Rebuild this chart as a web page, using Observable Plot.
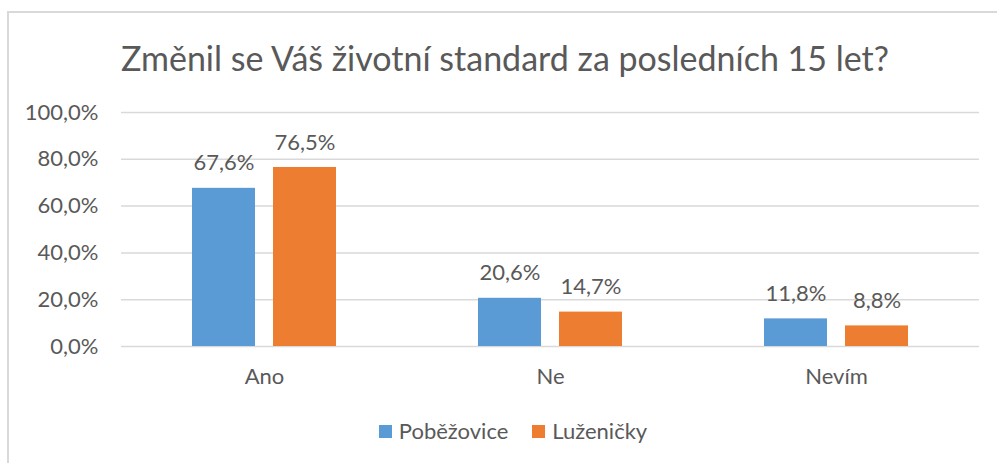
<!DOCTYPE html>
<html>
<head>
<meta charset="utf-8">
<script src="https://cdn.jsdelivr.net/npm/d3@7"></script>
<script src="https://cdn.jsdelivr.net/npm/@observablehq/plot@0.6"></script>
<style>
  html, body { margin: 0; padding: 0; background: #fff; }
  body { width: 997px; height: 463px; overflow: hidden; position: relative; font-family: Lato, "Open Sans", sans-serif; color: #595959; }
  #frame { position: absolute; left: 7px; top: 11px; width: 1200px; height: 800px; border-left: 2px solid #d9d9d9; border-top: 2px solid #d9d9d9; box-sizing: border-box; }
  #title { position: relative; height: 95px; box-sizing: border-box; padding-left: 13px; padding-top: 36px; text-align: center; font-size: 34px; line-height: 44px; color: #595959; white-space: nowrap; }
  #chart { position: relative; height: 300px; }
  #legend { position: relative; height: 68px; box-sizing: border-box; padding-top: 22px; padding-left: 29px; display: flex; justify-content: center; align-items: flex-start; font-size: 22px; line-height: 28px; }
  .item { display: flex; align-items: center; margin: 0 12px; }
  .sw { width: 13px; height: 13px; margin-right: 7px; }
</style>
</head>
<body>
<div id="frame"></div>
<div id="title">Změnil se Váš životní standard za posledních 15 let?</div>
<div id="chart"></div>
<div id="legend"></div>
<script>
const categories = ["Ano", "Ne", "Nevím"];
const series = ["Poběžovice", "Luženičky"];
const pobezovice = [0.676, 0.206, 0.118];
const luzenicky = [0.765, 0.147, 0.088];
const yTicks = [0, 0.2, 0.4, 0.6, 0.8, 1.0];
const colors = ["#5B9BD5", "#ED7D31"];

const fmt = v => d3.format(".1%")(v).replace(".", ",");

const data = categories.flatMap((c, i) => [
  {cat: c, series: series[0], value: pobezovice[i]},
  {cat: c, series: series[1], value: luzenicky[i]}
]);

const chart = Plot.plot({
  width: 997,
  height: 300,
  marginLeft: 120,
  marginRight: 17,
  marginTop: 17,
  marginBottom: 49,
  style: {fontFamily: "Lato, 'Open Sans', sans-serif", fontSize: "22px", color: "#595959", background: "transparent", overflow: "visible"},
  fx: {domain: categories, padding: 0, label: null, axis: "bottom", tickSize: 0, tickPadding: 22},
  x: {domain: series, paddingInner: 0.22, paddingOuter: 0.86, axis: null},
  y: {domain: [0, 1], ticks: yTicks, tickFormat: fmt, tickSize: 0, tickPadding: 23, label: null},
  color: {domain: series, range: colors},
  marks: [
    Plot.gridY(yTicks, {stroke: "#d9d9d9", strokeOpacity: 1, strokeWidth: 1.5}),
    Plot.barY(data, {fx: "cat", x: "series", y: "value", fill: "series"}),
    Plot.text(data, {fx: "cat", x: "series", y: "value", text: d => fmt(d.value), dy: -25, fill: "#595959", fontSize: 22})
  ]
});
document.getElementById("chart").appendChild(chart);

const legend = document.getElementById("legend");
series.forEach((s, i) => {
  const item = document.createElement("div");
  item.className = "item";
  const sw = document.createElement("span");
  sw.className = "sw";
  sw.style.background = colors[i];
  const lab = document.createElement("span");
  lab.textContent = s;
  item.appendChild(sw);
  item.appendChild(lab);
  legend.appendChild(item);
});
</script>
</body>
</html>
